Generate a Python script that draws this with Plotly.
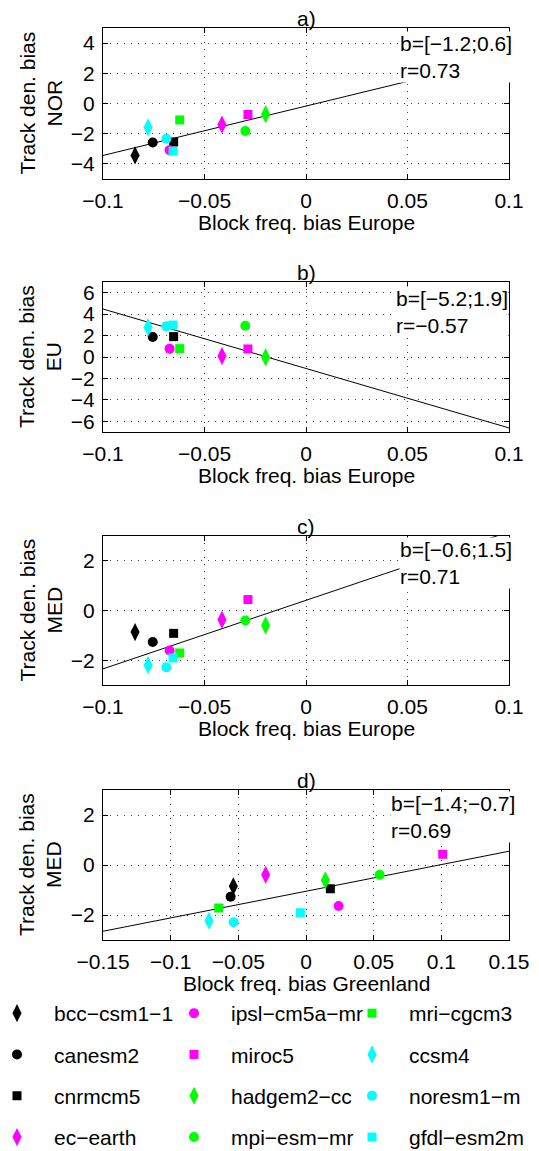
import plotly.graph_objects as go

W, H = 539, 1151

models = ["bcc−csm1−1", "canesm2", "cnrmcm5", "ec−earth",
          "ipsl−cm5a−mr", "miroc5", "hadgem2−cc", "mpi−esm−mr",
          "mri−cgcm3", "ccsm4", "noresm1−m", "gfdl−esm2m"]
colors = ["#000000", "#000000", "#000000", "#ff00ff",
          "#ff00ff", "#ff00ff", "#00ff00", "#00ff00",
          "#00ff00", "#00ffff", "#00ffff", "#00ffff"]
symbols = ["diamond-tall", "circle", "square", "diamond-tall",
           "circle", "square", "diamond-tall", "circle",
           "square", "diamond-tall", "circle", "square"]

# Block frequency bias (x)
x_europe = [-0.0842, -0.0755, -0.0652, -0.0414, -0.0672, -0.0286,
            -0.0199, -0.0299, -0.0622, -0.0778, -0.0688, -0.0655]
x_greenland = [-0.0537, -0.0557, 0.0180, -0.0298, 0.0241, 0.1010,
               0.0143, 0.0544, -0.0645, -0.0717, -0.0535, -0.0042]

# Track density bias (y)
y_nor = [-3.44, -2.58, -2.55, -1.40, -3.09, -0.73,
         -0.71, -1.82, -1.09, -1.58, -2.33, -3.16]
y_eu = [None, 1.87, 1.90, 0.09, 0.78, 0.75,
        -0.03, 2.92, 0.78, 2.77, 2.86, 2.98]
y_med_eu = [-0.87, -1.27, -0.92, -0.37, -1.61, 0.44,
            -0.60, -0.40, -1.71, -2.20, -2.29, -1.91]
y_med_gr = [-0.85, -1.27, -0.95, -0.39, -1.64, 0.43,
            -0.61, -0.39, -1.72, -2.23, -2.29, -1.91]

# regression lines
slopes = [32.7, -55.5, 27.6, 10.67]
intercepts = [-0.17, -1.07, 0.41, -1.05]

panel_titles = ["a)", "b)", "c)", "d)"]
ylabels = ["Track den. bias<br>NOR", "Track den. bias<br>EU",
           "Track den. bias<br>MED", "Track den. bias<br>MED"]
xlabels = ["Block freq. bias Europe", "Block freq. bias Europe",
           "Block freq. bias Europe", "Block freq. bias Greenland"]
stats = ["b=[−1.2;0.6]<br>r=0.73", "b=[−5.2;1.9]<br>r=−0.57",
         "b=[−0.6;1.5]<br>r=0.71", "b=[−1.4;−0.7]<br>r=0.69"]

xt_eu = [-0.1, -0.05, 0, 0.05, 0.1]
xt_eu_lab = ["−0.1", "−0.05", "0", "0.05", "0.1"]
xt_gr = [-0.15, -0.1, -0.05, 0, 0.05, 0.1, 0.15]
xt_gr_lab = ["−0.15", "−0.1", "−0.05", "0", "0.05", "0.1", "0.15"]
yt_nor = [-4, -2, 0, 2, 4]
yt_nor_lab = ["−4", "−2", "0", "2", "4"]
yt_eu = [-6, -4, -2, 0, 2, 4, 6]
yt_eu_lab = ["−6", "−4", "−2", "0", "2", "4", "6"]
yt_med = [-2, 0, 2]
yt_med_lab = ["−2", "0", "2"]

panels = [
    dict(x=x_europe, y=y_nor, xr=[-0.1, 0.1], yr=[-5, 5], xt=xt_eu, xtl=xt_eu_lab, yt=yt_nor, ytl=yt_nor_lab),
    dict(x=x_europe, y=y_eu, xr=[-0.1, 0.1], yr=[-7, 7], xt=xt_eu, xtl=xt_eu_lab, yt=yt_eu, ytl=yt_eu_lab),
    dict(x=x_europe, y=y_med_eu, xr=[-0.1, 0.1], yr=[-3, 3], xt=xt_eu, xtl=xt_eu_lab, yt=yt_med, ytl=yt_med_lab),
    dict(x=x_greenland, y=y_med_gr, xr=[-0.15, 0.15], yr=[-3, 3], xt=xt_gr, xtl=xt_gr_lab, yt=yt_med, ytl=yt_med_lab),
]

# pixel layout (top, bottom) of each plot area
px_left, px_right = 95, 501
px_tb = [(20, 171), (274, 424), (528, 677), (782, 932)]

FONT = "Liberation Sans, Arial, sans-serif"
FS = 21

fig = go.Figure()
sizes = {"diamond-tall": 13, "circle": 10, "square": 9}

for p, pan in enumerate(panels):
    xa = "x" if p == 0 else f"x{p+1}"
    ya = "y" if p == 0 else f"y{p+1}"
    xl = pan["xr"]
    fig.add_trace(go.Scatter(x=xl, y=[intercepts[p] + slopes[p] * v for v in xl],
                             mode="lines", line=dict(color="black", width=1),
                             xaxis=xa, yaxis=ya, showlegend=False, hoverinfo="skip"))
    for i, m in enumerate(models):
        leg = ["legend", "legend2", "legend3"][i // 4]
        fig.add_trace(go.Scatter(
            x=[pan["x"][i]], y=[pan["y"][i]], mode="markers",
            marker=dict(symbol=symbols[i], color=colors[i], size=sizes[symbols[i]], line=dict(width=0)),
            name=m, legendgroup=m, showlegend=(p == 0), legend=leg,
            xaxis=xa, yaxis=ya, cliponaxis=True))

layout = dict(width=W, height=H, margin=dict(l=0, r=0, t=0, b=0, autoexpand=False),
              paper_bgcolor="white", plot_bgcolor="white",
              font=dict(family=FONT, size=FS, color="black"))

axis_common = dict(showline=True, linecolor="black", linewidth=1, mirror="ticks",
                   ticks="inside", ticklen=5, tickcolor="black", automargin=False,
                   showgrid=True, gridcolor="#444", griddash="1px,6px", gridwidth=1,
                   zeroline=False, tickfont=dict(family=FONT, size=FS))

annotations = []
stat_pos = [(391, 23), (387, 278), (391, 529), (382, 783)]
for p, pan in enumerate(panels):
    top, bot = px_tb[p]
    xk = "xaxis" if p == 0 else f"xaxis{p+1}"
    yk = "yaxis" if p == 0 else f"yaxis{p+1}"
    yanchor_name = "y" if p == 0 else f"y{p+1}"
    xanchor_name = "x" if p == 0 else f"x{p+1}"
    layout[xk] = dict(axis_common, domain=[px_left / W, px_right / W], range=pan["xr"],
                      tickvals=pan["xt"], ticktext=pan["xtl"], anchor=yanchor_name,
                      ticklabelstandoff=3)
    layout[yk] = dict(axis_common, domain=[1 - bot / H, 1 - top / H], range=pan["yr"],
                      tickvals=pan["yt"], ticktext=pan["ytl"], anchor=xanchor_name,
                      ticklabelstandoff=3)
    annotations.append(dict(text=panel_titles[p], xref="paper", yref="paper",
                            x=298 / W, y=1 - max(top - 10, 11) / H, xanchor="center", yanchor="middle",
                            showarrow=False, font=dict(size=FS)))
    annotations.append(dict(text=ylabels[p], xref="paper", yref="paper", textangle=-90,
                            x=32 / W, y=1 - ((top + bot) / 2) / H, xanchor="center", yanchor="middle",
                            showarrow=False, font=dict(size=FS)))
    annotations.append(dict(text=xlabels[p], xref="paper", yref="paper",
                            x=298 / W, y=1 - (bot + 43) / H, xanchor="center", yanchor="middle",
                            showarrow=False, font=dict(size=FS)))
    sx, sy = stat_pos[p]
    annotations.append(dict(text=stats[p], xref="paper", yref="paper", align="left",
                            x=sx / W, y=1 - sy / H, xanchor="left", yanchor="top",
                            showarrow=False, bgcolor="white", borderpad=0,
                            font=dict(size=FS)))

layout["annotations"] = annotations

leg_common = dict(orientation="v", font=dict(family=FONT, size=FS), bgcolor="rgba(0,0,0,0)",
                  tracegroupgap=11, itemwidth=64, xanchor="left", yanchor="top",
                  itemclick=False, itemdoubleclick=False)
leg_x = [-28, 149, 327]
leg_top = 985
layout["legend"] = dict(leg_common, x=leg_x[0] / W, y=1 - leg_top / H)
layout["legend2"] = dict(leg_common, x=leg_x[1] / W, y=1 - leg_top / H)
layout["legend3"] = dict(leg_common, x=leg_x[2] / W, y=1 - leg_top / H)

fig.update_layout(**layout)
fig.write_html("out.html")
